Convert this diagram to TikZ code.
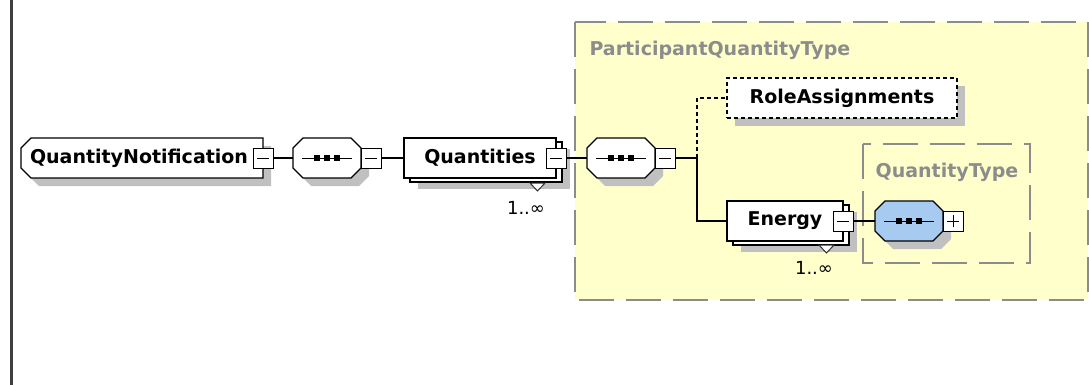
\documentclass[tikz,border=0pt]{standalone}
\usepackage{fontspec}
\setmainfont{DejaVu Sans}
\usetikzlibrary{shadows,backgrounds}

\definecolor{typeyellow}{RGB}{255,255,204}
\definecolor{typegray}{RGB}{140,140,140}
\definecolor{seqblue}{RGB}{166,202,240}
\definecolor{shadowgray}{RGB}{192,192,192}

\tikzset{
    elemfont/.style={font=\bfseries\fontsize{19}{21}\selectfont},
    elembase/.style={rectangle, draw, fill=white, line width=1.2pt,
        minimum height=40, inner sep=0pt, outer sep=0pt, elemfont},
    elem/.style={elembase,
        drop shadow={shadow xshift=8pt, shadow yshift=-8pt, fill=shadowgray, opacity=1}},
    manyelem/.style={elembase,
        drop shadow={shadow xshift=14pt, shadow yshift=-11pt, fill=shadowgray, opacity=1},
        copy shadow={shadow xshift=6pt, shadow yshift=-4pt, draw=black, fill=white, line width=1.2pt}},
    slot/.style={rectangle, minimum height=40, inner sep=0pt, outer sep=0pt},
    octshape/.style={draw, line width=1.2pt,
        drop shadow={shadow xshift=8pt, shadow yshift=-8pt, fill=shadowgray, opacity=1}},
    togglebox/.style={rectangle, draw, fill=white, line width=1pt,
        minimum size=20, inner sep=0pt, outer sep=0pt},
    minusbox/.style={togglebox, path picture={
            \draw[line width=1pt] ([xshift=4pt]path picture bounding box.west)
                -- ([xshift=-4pt]path picture bounding box.east);}},
    plusbox/.style={togglebox, path picture={
            \draw[line width=1pt] ([xshift=4pt]path picture bounding box.west)
                -- ([xshift=-4pt]path picture bounding box.east);
            \draw[line width=1pt] ([yshift=-4pt]path picture bounding box.north)
                -- ([yshift=4pt]path picture bounding box.south);}},
    conn/.style={line width=1.2pt},
    optconn/.style={conn, dash pattern=on 4pt off 3pt},
    typebox/.style={draw=typegray, line width=2pt, dash pattern=on 35pt off 12pt},
    typelabel/.style={text=typegray, elemfont},
    mult/.style={font=\fontsize{18}{20}\selectfont, inner sep=0pt},
    multtri/.style={draw=black!80, fill=white, line width=1pt},
}

\begin{document}
\begin{tikzpicture}[x=1pt, y=-1pt]
    \useasboundingbox (0,0) rectangle (1089,385);

    % rand links
    \draw[line width=3pt, black!75] (11,0) -- (11,385);

    % elementen
    \node[slot, minimum width=242, text width=224, align=left, elemfont] (notif) at (142,158) {QuantityNotification};
    \node[minusbox] (notifm) at (notif.east) {};

    \node[slot, minimum width=68] (seqa) at (327,158) {};
    \node[minusbox, anchor=west] (seqam) at (seqa.east) {};

    \node[manyelem, minimum width=152] (qty) at (480,158) {Quantities};
    \node[minusbox] (qtym) at (qty.east) {};
    \draw[multtri] (530,183) -- (545,183) -- (537.5,191) -- cycle;
    \node[mult] (qtymult) at (526,208) {1..∞};

    \node[typelabel, anchor=west] (pqtlabel) at (586,50) {ParticipantQuantityType};

    \node[slot, minimum width=68] (seqb) at (621,158) {};
    \node[minusbox, anchor=west] (seqbm) at (seqb.east) {};
    \coordinate (fork) at (697,158);

    \node[elem, dash pattern=on 4pt off 3pt, minimum width=230] (roles) at (842,98) {RoleAssignments};

    \node[manyelem, minimum width=116] (energy) at (785,221) {Energy};
    \node[minusbox] (energym) at (energy.east) {};
    \draw[multtri] (819,245) -- (834,245) -- (826.5,253) -- cycle;
    \node[mult] (energymult) at (814,268) {1..∞};

    \node[typelabel] (qtlabel) at (947,172) {QuantityType};
    \node[slot, minimum width=68] (seqc) at (909,221) {};
    \node[plusbox, anchor=west] (seqcm) at (seqc.east) {};

    % achtergrond: typen, wortel en sequenties
    \begin{scope}[on background layer]
        \draw[typebox, fill=typeyellow] (575,22) rectangle (1088,300);
        \draw[typebox] (863,144) rectangle (1030,263);
        \draw[octshape, fill=white] ([xshift=10pt]notif.north west) -- (notif.north east)
            -- (notif.south east) -- ([xshift=10pt]notif.south west)
            -- ([yshift=10pt]notif.south west) -- ([yshift=-10pt]notif.north west) -- cycle;
        \foreach \n/\c in {seqa/white, seqb/white, seqc/seqblue} {
            \draw[octshape, fill=\c] ([xshift=10pt]\n.north west) -- ([xshift=-10pt]\n.north east)
                -- ([yshift=-10pt]\n.north east) -- ([yshift=10pt]\n.south east)
                -- ([xshift=-10pt]\n.south east) -- ([xshift=10pt]\n.south west)
                -- ([yshift=10pt]\n.south west) -- ([yshift=-10pt]\n.north west) -- cycle;
            \draw[line width=1pt] ([xshift=9pt]\n.west) -- ([xshift=-9pt]\n.east);
            \foreach \dx in {-10,0,10}
                \fill ([xshift=\dx pt]\n.center) +(-3pt,-3pt) rectangle +(3pt,3pt);
        }
    \end{scope}

    % verbindingen
    \draw[conn] (notifm.east) -- (seqa.west);
    \draw[conn] (seqam.east) -- (qty.west);
    \draw[conn] (qtym.east) -- (seqb.west);
    \draw[conn] (seqbm.east) -- (fork);
    \draw[optconn] (fork) |- (roles.west);
    \draw[conn] (fork) |- (energy.west);
    \draw[conn] (energym.east) -- (seqc.west);
\end{tikzpicture}
\end{document}
